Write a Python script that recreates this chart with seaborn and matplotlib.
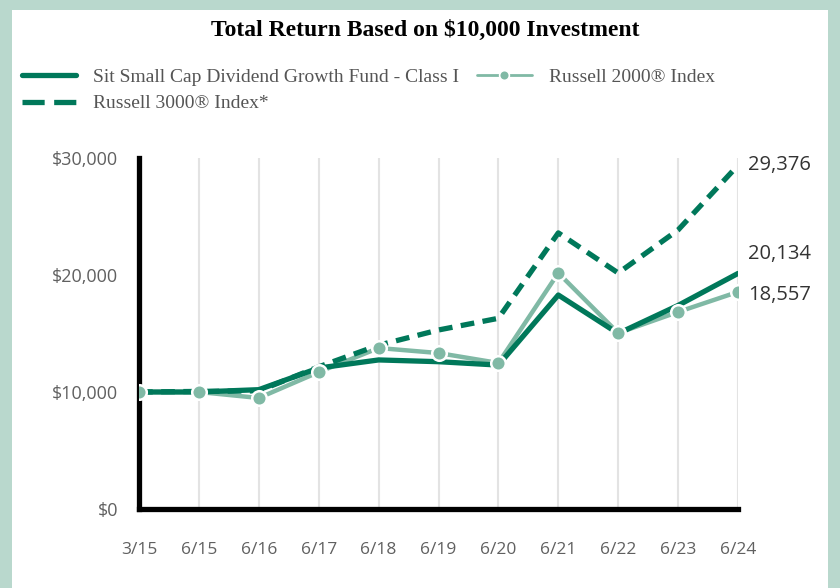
import matplotlib
matplotlib.use("Agg")
import matplotlib.pyplot as plt
from matplotlib.patches import Rectangle
from matplotlib.lines import Line2D
import seaborn as sns
import pandas as pd

dates = ["3/15", "6/15", "6/16", "6/17", "6/18", "6/19", "6/20", "6/21", "6/22", "6/23", "6/24"]
fund = [10000, 10000, 10200, 12050, 12740, 12590, 12300, 18290, 15000, 17400, 20134]
r2000 = [10000, 10000, 9490, 11700, 13760, 13330, 12480, 20170, 15040, 16840, 18557]
r3000 = [10000, 10050, 10100, 12150, 14000, 15300, 16300, 23600, 20170, 23850, 29376]
yticks = [0, 10000, 20000, 30000]
ytick_labels = ["$0", "$10,000", "$20,000", "$30,000"]
end_labels = ["20,134", "18,557", "29,376"]

dark = "#00785a"
light = "#80b9a5"
border = "#b9d8cd"

sns.set_theme(style="white")
plt.rcParams["font.family"] = ["Open Sans", "DejaVu Sans"]

fig = plt.figure(figsize=(8.4, 5.88), dpi=100)
fig.patch.set_facecolor(border)
fig.patches.append(Rectangle((12 / 840, 0), (828 - 12) / 840, (588 - 10) / 588,
                             transform=fig.transFigure, facecolor="white",
                             edgecolor="none", zorder=-10))

ax = fig.add_axes([139 / 840, (588 - 509) / 588, (738 - 139) / 840, (509 - 158) / 588])
ax.set_zorder(5)
ax.set_facecolor("white")

x = list(range(len(dates)))
df = pd.DataFrame({"x": x, "fund": fund, "r2000": r2000, "r3000": r3000})

for xi in x:
    ax.axvline(xi, color="#e3e3e3", lw=1.5, zorder=0)

sns.lineplot(data=df, x="x", y="r2000", ax=ax, color=light, lw=3.2, zorder=2)
sns.lineplot(data=df, x="x", y="fund", ax=ax, color=dark, lw=3.8, zorder=3)
sns.lineplot(data=df, x="x", y="r3000", ax=ax, color=dark, lw=3.8, zorder=3,
             dashes=False, linestyle=(0, (2.6, 1.6)))
sns.scatterplot(data=df, x="x", y="r2000", ax=ax, color=light, s=110,
                edgecolor="white", linewidth=1.8, zorder=4)

ax.set_xlim(0, 10)
ax.set_ylim(0, 30000)
ax.set_xticks(x)
ax.set_xticklabels(dates)
ax.set_yticks(yticks)
ax.set_yticklabels(ytick_labels)
ax.set_xlabel("")
ax.set_ylabel("")
ax.tick_params(axis="both", length=0, labelcolor="#606060")
ax.tick_params(axis="x", pad=24, labelsize=12.5)
ax.tick_params(axis="y", pad=15, labelsize=13)
for s in ["top", "right"]:
    ax.spines[s].set_visible(False)
for s in ["left", "bottom"]:
    ax.spines[s].set_color("black")
    ax.spines[s].set_linewidth(3.8)
    ax.spines[s].set_capstyle("projecting")
    ax.spines[s].set_zorder(1)

ends = [fund[-1], r2000[-1], r3000[-1]]
offs = [14, -2, 0]
for val, lab, off in zip(ends, end_labels, offs):
    ax.annotate(lab, xy=(10, val), xytext=(7, off), textcoords="offset points",
                ha="left", va="center", fontsize=14.5, color="#333333",
                annotation_clip=False)

fig.text(0.506, 1 - 30 / 588, "Total Return Based on $10,000 Investment",
         ha="center", va="center", fontsize=17, fontweight="bold",
         family=["Liberation Serif", "DejaVu Serif"], color="black")

handles = [
    Line2D([], [], color=dark, lw=3.8),
    Line2D([], [], color=dark, lw=3.8, linestyle=(0, (4.2, 1.8))),
    Line2D([], [], color=light, lw=2, marker="o", markersize=7,
           markerfacecolor=light, markeredgecolor="white", markeredgewidth=1.2),
]
labels = ["Sit Small Cap Dividend Growth Fund - Class I", "Russell 3000® Index*",
          "Russell 2000® Index"]
leg = fig.legend(handles, labels, loc="upper left", bbox_to_anchor=(4 / 840, 1 - 51 / 588),
                 ncol=2, frameon=False, handlelength=2.8, handletextpad=0.9,
                 columnspacing=0.9, labelspacing=0.45,
                 prop={"family": ["Liberation Serif", "DejaVu Serif"], "size": 14})
for t in leg.get_texts():
    t.set_color("#555555")

fig.savefig("out.png", dpi=100, facecolor=fig.get_facecolor())
